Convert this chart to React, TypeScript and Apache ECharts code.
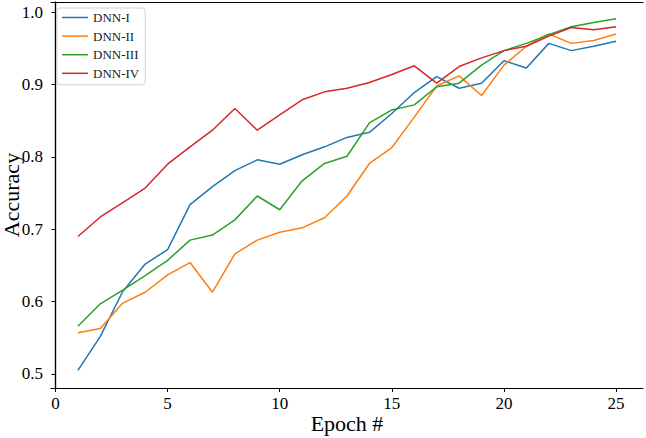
import React, { useEffect, useRef } from "react";
import * as echarts from "echarts";

const epochs = [1,2,3,4,5,6,7,8,9,10,11,12,13,14,15,16,17,18,19,20,21,22,23,24,25];
const dnn1 = [0.505,0.552,0.614,0.652,0.672,0.734,0.759,0.781,0.796,0.790,0.803,0.814,0.827,0.834,0.860,0.889,0.911,0.895,0.902,0.933,0.923,0.957,0.947,0.953,0.960];
const dnn2 = [0.557,0.563,0.598,0.613,0.637,0.654,0.613,0.666,0.685,0.696,0.702,0.716,0.746,0.791,0.813,0.855,0.898,0.912,0.885,0.927,0.953,0.970,0.957,0.961,0.970];
const dnn3 = [0.566,0.597,0.616,0.636,0.657,0.685,0.692,0.713,0.746,0.727,0.767,0.791,0.801,0.847,0.865,0.872,0.897,0.902,0.927,0.947,0.957,0.969,0.980,0.986,0.991];
const dnn4 = [0.690,0.717,0.737,0.757,0.790,0.814,0.837,0.867,0.837,0.858,0.879,0.890,0.895,0.903,0.914,0.926,0.902,0.925,0.937,0.947,0.953,0.967,0.979,0.976,0.980];
const seriesNames = ["DNN-I", "DNN-II", "DNN-III", "DNN-IV"];
const seriesColors = ["#1f77b4", "#ff7f0e", "#2ca02c", "#d62728"];
const xTicks = [0, 5, 10, 15, 20, 25];
const yTicks = [0.5, 0.6, 0.7, 0.8, 0.9, 1.0];

const FONT = "Liberation Serif";
const X_MIN = -0.2, X_MAX = 26.2, Y_MIN = 0.4806, Y_MAX = 1.0142;

export default function App() {
  const ref = useRef<HTMLDivElement>(null);
  useEffect(() => {
    document.body.style.margin = "0";
    if (!ref.current) return;
    const chart = echarts.init(ref.current, null, { renderer: "svg" });
    const all = [dnn1, dnn2, dnn3, dnn4];
    const spine = { show: true, lineStyle: { color: "#000", width: 1.2 } };
    chart.setOption({
      animation: false,
      textStyle: { fontFamily: FONT },
      grid: {
        left: 51, top: 2, right: 3, bottom: 50,
        outerBoundsMode: "none",
        containLabel: false,
      },
      legend: {
        orient: "vertical",
        left: 57, top: 8,
        padding: [2, 6, 4, 5],
        icon: "rect",
        itemWidth: 26, itemHeight: 1.5, itemGap: 3.6,
        itemTextGap: 9,
        backgroundColor: "rgba(255,255,255,0.8)",
        borderColor: "#d0d0d0", borderWidth: 1, borderRadius: 3,
        textStyle: { fontFamily: FONT, fontSize: 13, color: "#222", lineHeight: 15 },
        data: seriesNames,
      },
      xAxis: [
        {
          type: "value",
          min: X_MIN, max: X_MAX,
          name: "Epoch #",
          nameLocation: "middle",
          nameGap: 24,
          nameMoveOverlap: false,
          nameTextStyle: { fontFamily: FONT, fontSize: 22, color: "#000", verticalAlign: "top" },
          axisLine: spine,
          axisTick: { show: true, length: 4, lineStyle: { color: "#000" }, customValues: xTicks },
          axisLabel: { customValues: xTicks, margin: 7, fontFamily: FONT, fontSize: 17, color: "#000" },
          splitLine: { show: false },
        },
        {
          type: "value", position: "top",
          min: X_MIN, max: X_MAX,
          axisLine: spine, axisTick: { show: false }, axisLabel: { show: false }, splitLine: { show: false },
        },
      ],
      yAxis: [
        {
          type: "value",
          min: Y_MIN, max: Y_MAX,
          name: "Accuracy",
          nameLocation: "middle",
          nameGap: 29,
          nameRotate: 90,
          nameMoveOverlap: false,
          nameTextStyle: { fontFamily: FONT, fontSize: 22, color: "#000", lineHeight: 22 },
          axisLine: spine,
          axisTick: { show: true, length: 4, lineStyle: { color: "#000" }, customValues: yTicks },
          axisLabel: {
            customValues: yTicks, margin: 8, fontFamily: FONT, fontSize: 17, color: "#000",
            formatter: (v: number) => v.toFixed(1),
          },
          splitLine: { show: false },
        },
        {
          type: "value", position: "right",
          min: Y_MIN, max: Y_MAX,
          axisLine: spine, axisTick: { show: false }, axisLabel: { show: false }, splitLine: { show: false },
        },
      ],
      series: seriesNames.map((name, i) => ({
        name,
        type: "line",
        symbol: "none",
        color: seriesColors[i],
        lineStyle: { width: 1.5, color: seriesColors[i] },
        data: epochs.map((e, j) => [e, all[i][j]]),
      })),
    });
    return () => chart.dispose();
  }, []);
  return <div ref={ref} style={{ width: 646, height: 438 }} />;
}
